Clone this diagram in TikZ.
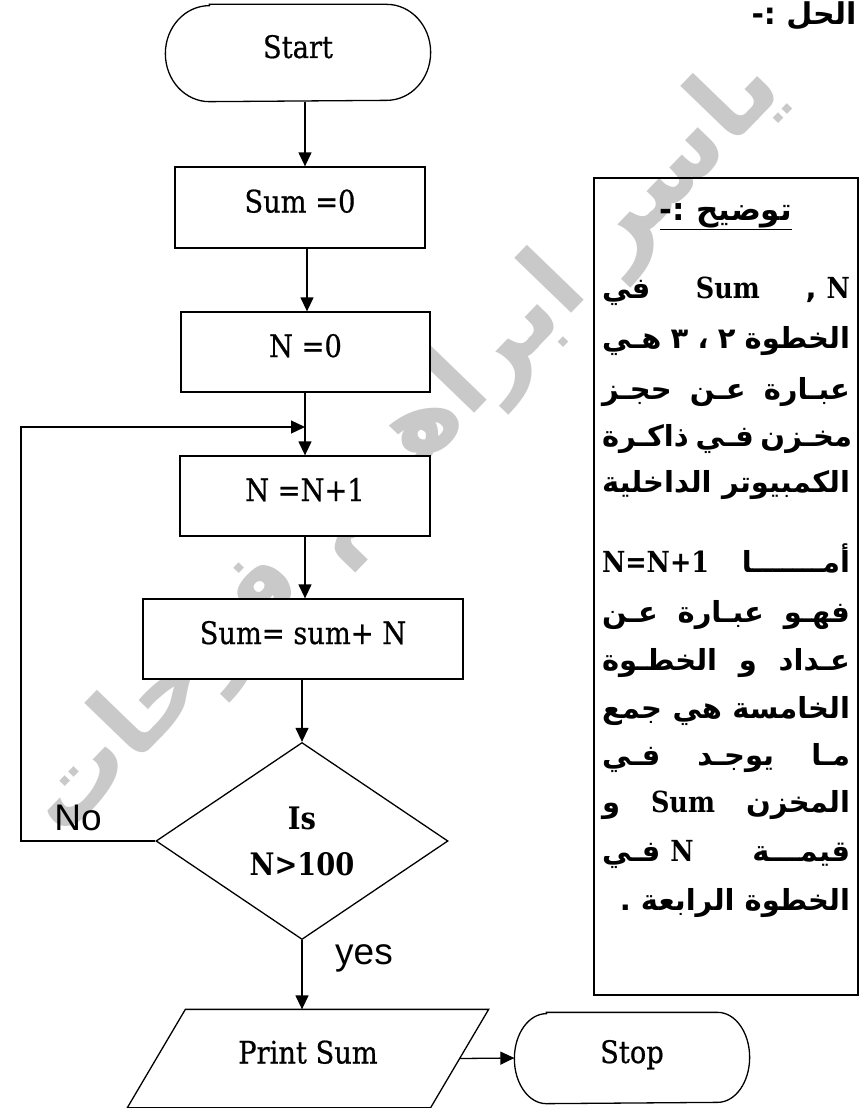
\documentclass[tikz,border=0pt]{standalone}
\usepackage{fontspec}
\usetikzlibrary{arrows.meta,shapes.geometric,calc}
\TeXXeTstate=1
\newfontfamily\labfont[FakeStretch=0.88,FakeBold=0.6]{DejaVu Serif}
\newfontfamily\labbold[FakeStretch=0.88,UprightFont={* Bold}]{DejaVu Serif}
\newfontfamily\tagfont{Liberation Sans}
\newfontfamily\arabicfont[Script=Arabic]{DejaVu Sans}
\newcommand{\lb}[1]{{\labbold #1}}
\newcommand{\jline}[1]{\hbox to 248pt{#1}}
\begin{document}
\begin{tikzpicture}[x=1pt,y=-1pt,line width=1.3pt,
  flow/.style={fill=white,inner sep=0pt,
    font=\labfont\fontsize{31}{36}\selectfont,text height=23pt,text depth=13pt},
  box/.style={flow,draw,rectangle},
  plain/.style={flow,rectangle},
  arr/.style={-{Triangle[length=14pt,width=13pt]}},
  tag/.style={font=\tagfont\fontsize{37}{40}\selectfont,inner sep=0pt},
  aline/.style={font=\arabicfont\bfseries\fontsize{29}{34}\selectfont,inner sep=0pt,
    text height=22pt,text depth=9pt},
  stamp/.style={font=\arabicfont\bfseries\fontsize{104}{104}\selectfont,text=gray!42,
    rotate=46,inner sep=0pt}
]
\useasboundingbox (0,0) rectangle (861,1108);

% faint name stamp behind the chart
\node[stamp] (wm) at (405,447) {\beginR ياسر ابراهيم فرحات\endR};

% heading
\node[aline,anchor=east,font=\arabicfont\bfseries\fontsize{30}{34}\selectfont] (sol) at (857,18) {\beginR الحل :-\endR};

% terminal: start
\node[plain,minimum width=264pt,minimum height=96pt,fill=none] (start) at (298,53) {};
\draw[fill=white] ([xshift=44pt]start.north west) -- ([xshift=-44pt]start.north east)
  arc[start angle=90,end angle=-90,x radius=44pt,y radius=48pt]
  -- ([xshift=44pt]start.south west)
  arc[start angle=270,end angle=90,x radius=44pt,y radius=48pt] -- cycle;
\node[flow,fill=none] at (start) {Start};

% process boxes
\node[box,minimum width=250pt,minimum height=81pt] (s0) at (300,207.5) {Sum =0};
\node[box,minimum width=249pt,minimum height=80pt] (n0) at (305.5,352) {N =0};
\node[box,minimum width=250pt,minimum height=80pt] (inc) at (305,496) {N =N+1};
\node[box,minimum width=320pt,minimum height=80pt] (add) at (303,639) {Sum= sum+ N};

% decision
\node[draw,diamond,fill=white,inner sep=0pt,minimum width=292pt,minimum height=197pt,
  align=center,font=\labbold\fontsize{31}{46}\selectfont] (dec) at (302,841) {Is\\N>100};

% output
\node[plain,fill=none,minimum width=302pt,minimum height=97pt] (print) at (308,1058.5) {};
\draw[fill=white] ([xshift=29pt]print.north west) -- ([xshift=29pt]print.north east)
  -- ([xshift=-29pt]print.south east) -- ([xshift=-29pt]print.south west) -- cycle;
\node[flow,fill=none] at (print) {Print Sum};

% terminal: stop
\node[plain,fill=none,minimum width=234pt,minimum height=90pt] (stop) at (632,1058) {};
\draw[fill=white] ([xshift=32pt]stop.north west) -- ([xshift=-32pt]stop.north east)
  arc[start angle=90,end angle=-90,x radius=32pt,y radius=45pt]
  -- ([xshift=32pt]stop.south west)
  arc[start angle=270,end angle=90,x radius=32pt,y radius=45pt] -- cycle;
\node[flow,fill=none] at (stop) {Stop};

% connectors
\coordinate (c1) at (305,0);
\coordinate (c2) at (307,0);
\coordinate (lk) at (21,427);
\coordinate (join) at (305,427);
\draw[arr] (start.south -| c1) -- (s0.north -| c1);
\draw[arr] (s0.south -| c2) -- (n0.north -| c2);
\draw[arr] (n0.south -| c1) -- (inc.north -| c1);
\draw[arr] (inc.south -| c1) -- (add.north -| c1);
\draw[arr] (add.south -| dec.north) -- (dec.north);
\draw[arr] (dec.west) -| (lk) -- (join);
\draw[arr] (dec.south) -- (print.north -| dec.south);
\draw[arr] (print.east) -- (stop.west);

\node[tag] (no) at (78,818) {No};
\node[tag] (yes) at (364,958) {yes};

% explanation panel
\node[draw,line width=1.6pt,minimum width=264pt,minimum height=817pt,inner sep=0pt] (panel) at (726,586.5) {};
\node[aline,font=\arabicfont\bfseries\fontsize{31}{34}\selectfont] (head) at (726,214) {\underline{\beginR توضيح :-\endR}};
\node[aline] (l1) at (726,292) {\jline{\beginR\beginL\lb{N}\endL\ ,\hfill\beginL\lb{Sum}\endL\hfill في\endR}};
\node[aline] (l2) at (726,342) {\jline{\beginR الخطوة ٢ ، ٣ هـي\endR}};
\node[aline] (l3) at (726,393) {\jline{\beginR عبـارة عـن حجـز\endR}};
\node[aline] (l4) at (726,440) {\jline{\beginR مخـزن فـي ذاكـرة\endR}};
\node[aline] (l5) at (726,486) {\jline{\beginR الكمبيوتر الداخلية\endR}};
\node[aline] (l6) at (726,566) {\jline{\beginR أمـــــــا\hfill\beginL\lb{N=N+1}\endL\endR}};
\node[aline] (l7) at (726,616) {\jline{\beginR فهـو عبـارة عـن\endR}};
\node[aline] (l8) at (726,664) {\jline{\beginR عـداد و الخطـوة\endR}};
\node[aline] (l9) at (726,712) {\jline{\beginR الخامسة هي جمع\endR}};
\node[aline] (l10) at (726,759) {\jline{\beginR مـا يوجـد فـي\endR}};
\node[aline] (l11) at (726,806) {\jline{\beginR المخزن\hfill\beginL\lb{Sum}\endL\hfill و\endR}};
\node[aline] (l12) at (726,855) {\jline{\beginR قيمـــة\hfill\beginL\lb{N}\endL\ فـي\endR}};
\node[aline] (l13) at (726,904) {\jline{\hfill\beginR الخطوة الرابعة .\endR}};
\end{tikzpicture}
\end{document}
